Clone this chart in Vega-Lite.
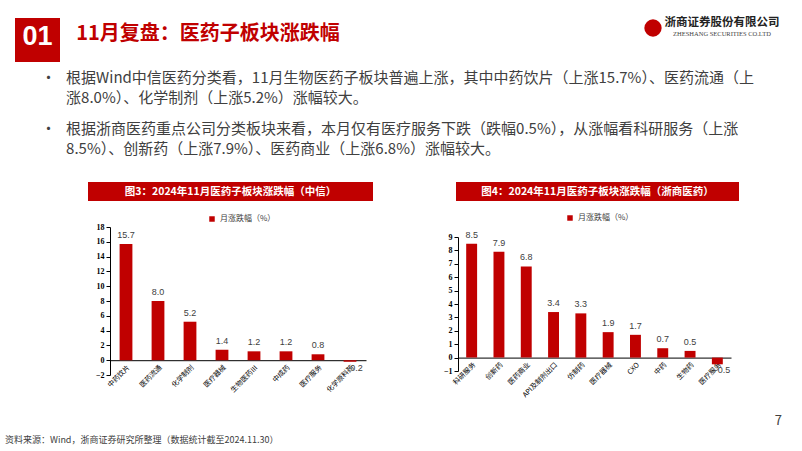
{
  "$schema": "https://vega.github.io/schema/vega-lite/v6.json",
  "background": "white",
  "padding": {"left": 5, "top": 17, "right": 0, "bottom": 0},
  "config": {"view": {"stroke": null}, "font": "Noto Sans CJK SC"},
  "title": {"text": "资料来源：Wind，浙商证券研究所整理（数据统计截至2024.11.30）", "orient": "bottom", "anchor": "start", "frame": "bounds", "dx": -10, "fontSize": 9, "fontWeight": "normal", "color": "#404040", "offset": 8},
  "resolve": {"scale": {"color": "independent"}, "legend": {"color": "independent"}},
  "spacing": 9,
  "vconcat": [
    {
      "spacing": 303,
      "hconcat": [
        {
          "spacing": 16,
          "hconcat": [
            {"width": 45, "height": 44, "view": {"fill": "#C00000"}, "data": {"values": [{"t": "01"}]}, "mark": {"type": "text", "color": "white", "fontSize": 27, "fontWeight": "bold", "font": "Liberation Sans", "dy": -3}, "encoding": {"text": {"field": "t"}}},
            {"width": 262, "height": 44, "data": {"values": [{"t": "11月复盘：医药子板块涨跌幅"}]}, "mark": {"type": "text", "color": "#C00000", "fontSize": 20, "fontWeight": "bold", "dy": -6}, "encoding": {"text": {"field": "t"}}}
          ]
        },
        {
          "spacing": 1,
          "hconcat": [
            {"width": 20, "height": 20, "data": {"values": [{"k": "logo"}]}, "mark": {"type": "circle", "color": "#C00000", "size": 300, "opacity": 1}, "encoding": {}},
            {"width": 116, "height": 20, "layer": [
              {"data": {"values": [{"t": "浙商证券股份有限公司"}]}, "mark": {"type": "text", "color": "#222222", "fontSize": 11.5, "fontWeight": "bold", "dy": -5}, "encoding": {"text": {"field": "t"}}},
              {"data": {"values": [{"t": "ZHESHANG SECURITIES CO.LTD"}]}, "mark": {"type": "text", "color": "#444444", "fontSize": 6.5, "font": "Liberation Serif", "dy": 6}, "encoding": {"text": {"field": "t"}}}
            ]}
          ]
        }
      ]
    },
    {
      "title": {
        "text": ["•\u00a0\u00a0\u00a0根据Wind中信医药分类看，11月生物医药子板块普遍上涨，其中中药饮片（上涨15.7%）、医药流通（上", "\u200b\u3000\u00a0\u00a0\u00a0涨8.0%）、化学制剂（上涨5.2%）涨幅较大。"],
        "subtitle": ["•\u00a0\u00a0\u00a0根据浙商医药重点公司分类板块来看，本月仅有医疗服务下跌（跌幅0.5%），从涨幅看科研服务（上涨", "\u200b\u3000\u00a0\u00a0\u00a08.5%）、创新药（上涨7.9%）、医药商业（上涨6.8%）涨幅较大。"],
        "orient": "top", "anchor": "start", "frame": "bounds", "dx": 26, "offset": 25,
        "fontSize": 15, "fontWeight": "normal", "color": "#404040", "lineHeight": 20,
        "subtitleFontSize": 15, "subtitleColor": "#404040", "subtitleLineHeight": 20, "subtitlePadding": 16, "subtitleFont": "Noto Sans CJK SC"
      },
      "resolve": {"scale": {"color": "independent"}, "legend": {"color": "independent"}},
      "spacing": 10,
      "hconcat": [
        {"width": 63, "height": 1, "data": {"values": []}, "mark": "text"},
        {
          "spacing": 70,
          "resolve": {"scale": {"color": "independent"}, "legend": {"color": "independent"}},
          "hconcat": [
            {
              "spacing": 14,
              "resolve": {"scale": {"color": "independent"}, "legend": {"color": "independent"}},
              "vconcat": [
                {"width": 285, "height": 19, "view": {"fill": "#C00000"}, "data": {"values": [{"t": "图3：2024年11月医药子板块涨跌幅（中信）"}]}, "mark": {"type": "text", "color": "white", "fontSize": 10.5, "fontWeight": "bold"}, "encoding": {"text": {"field": "t"}}},
                {
                  "width": 285, "height": 148,
                  "data": {"values": [
                    {"sector": "中药饮片", "v": 15.7},
                    {"sector": "医药流通", "v": 8.0},
                    {"sector": "化学制剂", "v": 5.2},
                    {"sector": "医疗器械", "v": 1.4},
                    {"sector": "生物医药Ⅲ", "v": 1.2},
                    {"sector": "中成药", "v": 1.2},
                    {"sector": "医疗服务", "v": 0.8},
                    {"sector": "化学原料药", "v": -0.2}
                  ]},
                  "encoding": {
                    "x": {"field": "sector", "type": "nominal", "sort": null,
                      "scale": {"range": [22, 278], "paddingInner": 0.6, "paddingOuter": 0.3},
                      "axis": {"title": null, "offset": -14.8, "labelAngle": -45, "labelAlign": "right", "labelFontSize": 7, "labelColor": "#000000", "domainColor": "#000000", "ticks": false, "labelPadding": 3}},
                    "y": {"field": "v", "type": "quantitative", "scale": {"domain": [-2, 18], "nice": false},
                      "axis": {"title": null, "offset": -22, "values": [-2, 0, 2, 4, 6, 8, 10, 12, 14, 16, 18], "labelOverlap": false, "labelFont": "Liberation Serif", "labelFontWeight": "bold", "labelFontSize": 8, "labelColor": "#000000", "domainColor": "#000000", "tickColor": "#000000", "tickSize": 4, "grid": false, "labelPadding": 2}}
                  },
                  "layer": [
                    {"mark": {"type": "bar"},
                     "encoding": {
                       "color": {"datum": "月涨跌幅（%）", "scale": {"range": ["#C00000"]},
                         "legend": {"orient": "none", "legendX": 120, "legendY": -12, "title": null, "symbolType": "square", "symbolSize": 30, "labelFontSize": 8, "labelColor": "#404040", "direction": "horizontal", "padding": 0}}
                     }},
                    {"transform": [{"filter": "datum.v >= 0"}],
                     "mark": {"type": "text", "baseline": "bottom", "dy": -4, "font": "Liberation Sans", "fontSize": 9, "color": "#404040"},
                     "encoding": {"text": {"field": "v", "format": ".1f"}}},
                    {"transform": [{"filter": "datum.v < 0"}],
                     "mark": {"type": "text", "baseline": "top", "dy": 2, "dx": 4, "font": "Liberation Sans", "fontSize": 9, "color": "#404040"},
                     "encoding": {"text": {"field": "v", "format": ".1f"}}}
                  ]
                }
              ]
            },
            {
              "spacing": 13,
              "resolve": {"scale": {"color": "independent"}, "legend": {"color": "independent"}},
              "vconcat": [
                {"width": 283, "height": 19, "view": {"fill": "#C00000"}, "data": {"values": [{"t": "图4：2024年11月医药子板块涨跌幅（浙商医药）"}]}, "mark": {"type": "text", "color": "white", "fontSize": 10.5, "fontWeight": "bold"}, "encoding": {"text": {"field": "t"}}},
                {
                  "width": 283, "height": 134,
                  "data": {"values": [
                    {"sector": "科研服务", "v": 8.5},
                    {"sector": "创新药", "v": 7.9},
                    {"sector": "医药商业", "v": 6.8},
                    {"sector": "API及制剂出口", "v": 3.4},
                    {"sector": "仿制药", "v": 3.3},
                    {"sector": "医疗器械", "v": 1.9},
                    {"sector": "CXO", "v": 1.7},
                    {"sector": "中药", "v": 0.7},
                    {"sector": "生物药", "v": 0.5},
                    {"sector": "医疗服务", "v": -0.5}
                  ]},
                  "encoding": {
                    "x": {"field": "sector", "type": "nominal", "sort": null,
                      "scale": {"range": [2, 275], "paddingInner": 0.6, "paddingOuter": 0.3},
                      "axis": {"title": null, "offset": -13.4, "labelAngle": -45, "labelAlign": "right", "labelFontSize": 7, "labelColor": "#000000", "domainColor": "#000000", "ticks": false, "labelPadding": 3}},
                    "y": {"field": "v", "type": "quantitative", "scale": {"domain": [-1, 9], "nice": false},
                      "axis": {"title": null, "offset": -2, "values": [-1, 0, 1, 2, 3, 4, 5, 6, 7, 8, 9], "labelOverlap": false, "labelFont": "Liberation Serif", "labelFontWeight": "bold", "labelFontSize": 8, "labelColor": "#000000", "domainColor": "#000000", "tickColor": "#000000", "tickSize": 4, "grid": false, "labelPadding": 2}}
                  },
                  "layer": [
                    {"mark": {"type": "bar"},
                     "encoding": {
                       "color": {"datum": "月涨跌幅（%）", "scale": {"range": ["#C00000"]},
                         "legend": {"orient": "none", "legendX": 110, "legendY": -23, "title": null, "symbolType": "square", "symbolSize": 30, "labelFontSize": 8, "labelColor": "#404040", "direction": "horizontal", "padding": 0}}
                     }},
                    {"transform": [{"filter": "datum.v >= 0"}],
                     "mark": {"type": "text", "baseline": "bottom", "dy": -4, "font": "Liberation Sans", "fontSize": 9, "color": "#404040"},
                     "encoding": {"text": {"field": "v", "format": ".1f"}}},
                    {"transform": [{"filter": "datum.v < 0"}],
                     "mark": {"type": "text", "baseline": "top", "dy": 2, "dx": 4, "font": "Liberation Sans", "fontSize": 9, "color": "#404040"},
                     "encoding": {"text": {"field": "v", "format": ".1f"}}}
                  ]
                }
              ]
            }
          ]
        }
      ]
    },
    {"width": 767, "height": 8, "data": {"values": []}, "mark": "text",
     "title": {"text": "7", "orient": "bottom", "anchor": "end", "fontSize": 13, "fontWeight": "normal", "color": "#404040", "offset": 0}}
  ]
}
